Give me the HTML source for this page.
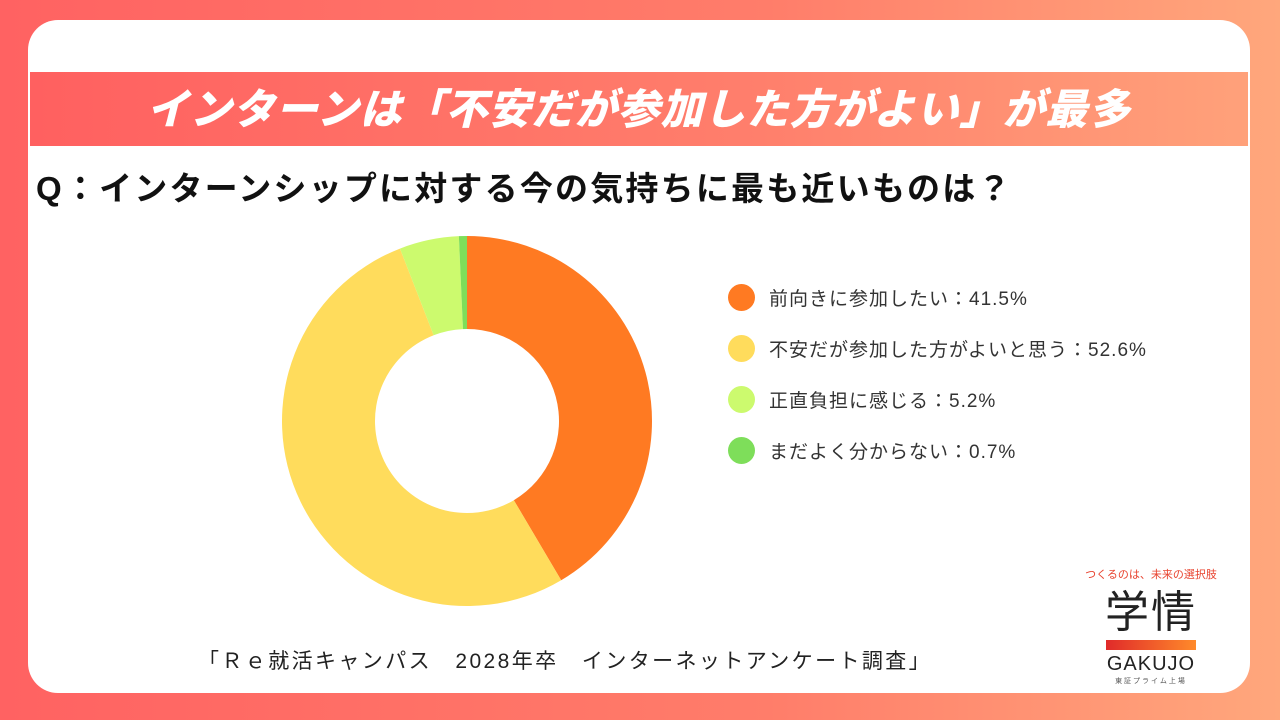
<!DOCTYPE html>
<html><head><meta charset="utf-8"><style>
body{margin:0;width:1280px;height:720px;overflow:hidden;font-family:"Liberation Sans","Noto Sans CJK JP",sans-serif;background:linear-gradient(90deg,#ff6262,#ff7d6a 60%,#ffa77c);position:relative}
.card{position:absolute;left:28px;top:20px;width:1222px;height:673px;background:#fff;border-radius:30px}
.banner{position:absolute;left:30px;top:72px;width:1218px;height:74px;background:linear-gradient(90deg,#ff6060,#ff7f6c 60%,#ffa17a);color:#fff;font-weight:900;font-size:42px;font-style:italic;line-height:76px;text-align:center;letter-spacing:1px;white-space:nowrap}
.q{position:absolute;left:36px;top:162px;font-size:33px;font-weight:bold;color:#111;letter-spacing:2.2px;white-space:nowrap}
.leg{position:absolute;left:728px;font-size:19px;color:#333;display:flex;align-items:center;white-space:nowrap;letter-spacing:1px}
.dot{width:27px;height:27px;border-radius:50%;margin-right:14px}
.src{position:absolute;left:198px;top:645px;font-size:21px;color:#222;letter-spacing:2.4px;white-space:nowrap}
</style></head><body>
<div class="card"></div>
<div class="banner">インターンは「不安だが参加した方がよい」が最多</div>
<div class="q">Q：インターンシップに対する今の気持ちに最も近いものは？</div>
<svg id="chart" width="1280" height="720" style="position:absolute;left:0;top:0"></svg>
<div style="position:absolute;left:1076px;top:566px;width:150px;text-align:center">
<div style="color:#e8432f;font-size:11px;white-space:nowrap">つくるのは、未来の選択肢</div>
<div style="font-size:44px;color:#222;line-height:50px;margin-top:6px;letter-spacing:2px">学情</div>
<div style="height:10px;margin:2px 30px 0 30px;background:linear-gradient(90deg,#e02a2a,#ff8a2a)"></div>
<div style="font-size:20px;color:#222;margin-top:3px;letter-spacing:1px">GAKUJO</div>
<div style="font-size:7px;color:#555;letter-spacing:2px">東証プライム上場</div>
</div>
<script>
const labels=["前向きに参加したい","不安だが参加した方がよいと思う","正直負担に感じる","まだよく分からない"];
const values=[41.5,52.6,5.2,0.7];
const colors=["#ff7a22","#ffdc5c","#ccfa6e","#7ede5a"];
const svg=document.getElementById('chart');
const cx=467,cy=421,R=185,r=92;
const total=values.reduce((a,b)=>a+b,0);
let a0=0;
function pt(a,rad){return [cx+rad*Math.sin(a),cy-rad*Math.cos(a)];}
values.forEach((v,i)=>{
const a1=a0+v/total*2*Math.PI;const lg=(a1-a0)>Math.PI?1:0;
const [x1,y1]=pt(a0,R),[x2,y2]=pt(a1,R),[x3,y3]=pt(a1,r),[x4,y4]=pt(a0,r);
const p=document.createElementNS('http://www.w3.org/2000/svg','path');
p.setAttribute('d',`M${x1} ${y1}A${R} ${R} 0 ${lg} 1 ${x2} ${y2}L${x3} ${y3}A${r} ${r} 0 ${lg} 0 ${x4} ${y4}Z`);
p.setAttribute('fill',colors[i]);


svg.appendChild(p);a0=a1;
const d=document.createElement('div');d.className='leg';d.style.top=(284+i*51)+'px';


d.innerHTML=`<span class="dot" style="background:${colors[i]}"></span>${labels[i]}：${v}%`;
document.body.appendChild(d);
});
</script>
<div class="src">「Ｒｅ就活キャンパス　2028年卒　インターネットアンケート調査」</div>
</body></html>
